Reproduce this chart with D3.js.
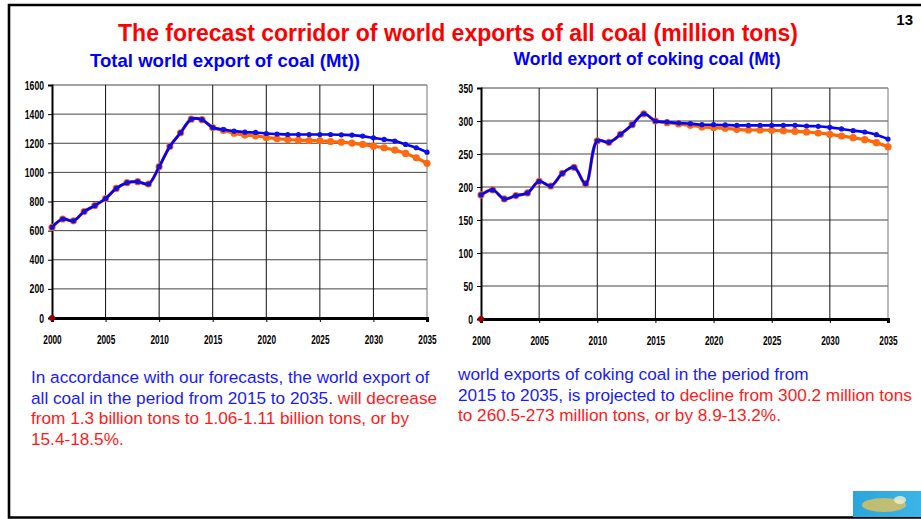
<!DOCTYPE html>
<html>
<head>
<meta charset="utf-8">
<script src="https://cdn.jsdelivr.net/npm/d3@7"></script>
<style>
  html, body { margin: 0; padding: 0; background: #fff; }
  svg { display: block; }
  .tick text { font-family: "Liberation Sans", Arial, sans-serif; font-weight: bold; }
</style>
</head>
<body>
<svg id="slide" width="921" height="519"></svg>
<script>
// years on the x axis
const years = [2000,2001,2002,2003,2004,2005,2006,2007,2008,2009,2010,2011,2012,2013,2014,
  2015,2016,2017,2018,2019,2020,2021,2022,2023,2024,2025,2026,2027,2028,2029,2030,2031,2032,2033,2034,2035];
const yearTicks = [2000,2005,2010,2015,2020,2025,2030,2035];

// total coal export, Mt
const totalHist = [623,680,667,731,772,820,890,929,936,920,1039,1178,1272,1365,1362];
const totalHigh = [1308,1294,1283,1276,1274,1267,1263,1260,1260,1260,1260,1260,1258,1256,1249,1237,1226,1215,1192,1169,1139];
const totalLow  = [1308,1288,1269,1256,1251,1240,1231,1226,1221,1219,1217,1212,1208,1201,1192,1180,1169,1153,1130,1100,1062];
const totalTicks = [0,200,400,600,800,1000,1200,1400,1600];

// coking coal export, Mt
const cokingHist = [188,195.5,182,187,191,208.6,201.5,220.7,229.8,205,270,267.7,279.8,294.4,311];
const cokingHigh = [300,298.5,297,296,294.4,294.4,294,293.4,293.4,293.4,293.4,293.4,293.4,292.4,292,290.4,288,285.4,283.3,279.3,272.7];
const cokingLow  = [300,297.5,295.5,293.4,291,290,289,287.4,286.4,286.4,286,285.4,284.3,283.3,281.8,279.8,277.3,274.7,271.7,267.2,261];
const cokingTicks = [0,50,100,150,200,250,300,350];

const svg = d3.select("#slide");

// slide frame
svg.append("path")
  .attr("d", "M921,5 H9 V517.5 H921")
  .attr("fill", "none")
  .attr("stroke", "#000")
  .attr("stroke-width", 2.6);

svg.append("text")
  .attr("x", 913).attr("y", 25)
  .attr("text-anchor", "end")
  .style("font", "bold 15px 'Liberation Sans', Arial, sans-serif")
  .text("13");

svg.append("text")
  .attr("x", 458).attr("y", 41)
  .attr("text-anchor", "middle")
  .attr("fill", "#ff0000")
  .style("font", "bold 23px 'Liberation Sans', Arial, sans-serif")
  .text("The forecast corridor of world exports of all coal (million tons)");

// narrow-looking labels like the original picture
function squeeze(sel, perChar) {
  sel.each(function() {
    const n = this.textContent.length;
    d3.select(this).attr("textLength", n * perChar).attr("lengthAdjust", "spacingAndGlyphs");
  });
}

function drawChart(opts) {
  const x = d3.scaleLinear().domain([2000, 2035]).range([opts.left, opts.right]);
  const y = d3.scaleLinear().domain([0, opts.max]).range([opts.bottom, opts.top]);
  const g = svg.append("g");

  g.append("text")
    .attr("x", opts.titleX).attr("y", opts.titleY)
    .attr("text-anchor", "middle")
    .attr("fill", "#0000ff")
    .attr("textLength", opts.titleW).attr("lengthAdjust", "spacingAndGlyphs")
    .style("font", "bold 18.5px 'Liberation Sans', Arial, sans-serif")
    .text(opts.title);

  // grid
  g.append("g").selectAll("line").data(opts.yTicks.slice(1))
    .join("line")
    .attr("x1", opts.left).attr("x2", opts.right)
    .attr("y1", d => y(d)).attr("y2", d => y(d))
    .attr("stroke", "#444").attr("stroke-width", 1);
  g.append("g").selectAll("line").data(yearTicks.slice(1))
    .join("line")
    .attr("x1", d => x(d)).attr("x2", d => x(d))
    .attr("y1", opts.top).attr("y2", opts.bottom)
    .attr("stroke", d => d === 2035 ? "#777" : "#111").attr("stroke-width", 1);

  // axes
  const yAxis = g.append("g")
    .attr("transform", `translate(${opts.left},0)`)
    .call(d3.axisLeft(y).tickValues(opts.yTicks).tickFormat(d3.format("d")).tickSize(4).tickPadding(4));
  yAxis.select(".domain").attr("stroke-width", 2);
  yAxis.selectAll("text").style("font-size", "12.5px").call(squeeze, 4.8);

  const xAxis = g.append("g")
    .attr("transform", `translate(0,${opts.bottom})`)
    .call(d3.axisBottom(x).tickValues(yearTicks).tickFormat(d3.format("d")).tickSize(4).tickPadding(13));
  xAxis.select(".domain").attr("stroke-width", 3);
  xAxis.selectAll("text").style("font-size", "12.5px").call(squeeze, 4.6);

  const line = d3.line()
    .x(d => x(d.year)).y(d => y(d.v))
    .curve(d3.curveCatmullRom.alpha(0.5));

  const low = years.map((yr, i) => ({ year: yr, v: i < opts.hist.length ? opts.hist[i] : opts.low[i - opts.hist.length] }));
  const high = years.map((yr, i) => ({ year: yr, v: i < opts.hist.length ? opts.hist[i] : opts.high[i - opts.hist.length] }));

  g.append("path").datum(low)
    .attr("d", line).attr("fill", "none")
    .attr("stroke", "#ff6600").attr("stroke-width", 3.2);
  g.append("g").selectAll("circle").data(low)
    .join("circle")
    .attr("cx", d => x(d.year)).attr("cy", d => y(d.v))
    .attr("r", 3.6).attr("fill", "#ff6a10");

  g.append("path").datum(high)
    .attr("d", line).attr("fill", "none")
    .attr("stroke", "#0000ff").attr("stroke-width", 2.6);
  g.append("g").selectAll("circle").data(high)
    .join("circle")
    .attr("cx", d => x(d.year)).attr("cy", d => y(d.v))
    .attr("r", 2.6).attr("fill", "#1010e0");

  // stray marker at origin
  g.append("circle")
    .attr("cx", x(2000)).attr("cy", y(0))
    .attr("r", 3).attr("fill", "#9a0000");
}

drawChart({
  title: "Total world export of coal (Mt))", titleX: 225, titleY: 67, titleW: 270,
  left: 52, right: 427, top: 85, bottom: 318, max: 1600, yTicks: totalTicks,
  hist: totalHist, high: totalHigh, low: totalLow
});

drawChart({
  title: "World export of coking coal (Mt)", titleX: 647, titleY: 65, titleW: 267,
  left: 481, right: 888, top: 88, bottom: 319, max: 350, yTicks: cokingTicks,
  hist: cokingHist, high: cokingHigh, low: cokingLow
});

// commentary text
const blue = "#1a1aff", red = "#ff1a1a";
function para(x0, y0, lines) {
  const t = svg.append("text")
    .style("font", "17.2px 'Liberation Sans', Arial, sans-serif");
  lines.forEach((parts, i) => {
    parts.forEach((p, j) => {
      const s = t.append("tspan").attr("fill", p[0]).text(p[1]);
      if (j === 0) s.attr("x", x0).attr("y", y0 + i * 20.6);
    });
  });
}

para(31, 383, [
  [[blue, "In accordance with our forecasts, the world export of"]],
  [[blue, "all coal in the period from 2015 to 2035. "], [red, "will decrease"]],
  [[red, "from 1.3 billion tons to 1.06-1.11 billion tons, or by"]],
  [[red, "15.4-18.5%."]]
]);

para(458, 380, [
  [[blue, "world exports of coking coal in the period from"]],
  [[blue, "2015 to 2035, is projected to "], [red, "decline from 300.2 million tons"]],
  [[red, "to 260.5-273 million tons, or by 8.9-13.2%."]]
]);

// little logo in the corner
const defs = svg.append("defs");
const grad = defs.append("linearGradient").attr("id", "logoGrad").attr("x1", 0).attr("x2", 1);
grad.append("stop").attr("offset", "0%").attr("stop-color", "#2aa6dc");
grad.append("stop").attr("offset", "100%").attr("stop-color", "#3cb4e6");
svg.append("rect").attr("x", 853).attr("y", 491).attr("width", 68).attr("height", 26).attr("fill", "url(#logoGrad)");
svg.append("ellipse").attr("cx", 884).attr("cy", 505).attr("rx", 22).attr("ry", 7).attr("fill", "#d9c060").attr("opacity", 0.85);
svg.append("ellipse").attr("cx", 900).attr("cy", 500).attr("rx", 6).attr("ry", 4).attr("fill", "#f4f0d0").attr("opacity", 0.8);
</script>
</body>
</html>
